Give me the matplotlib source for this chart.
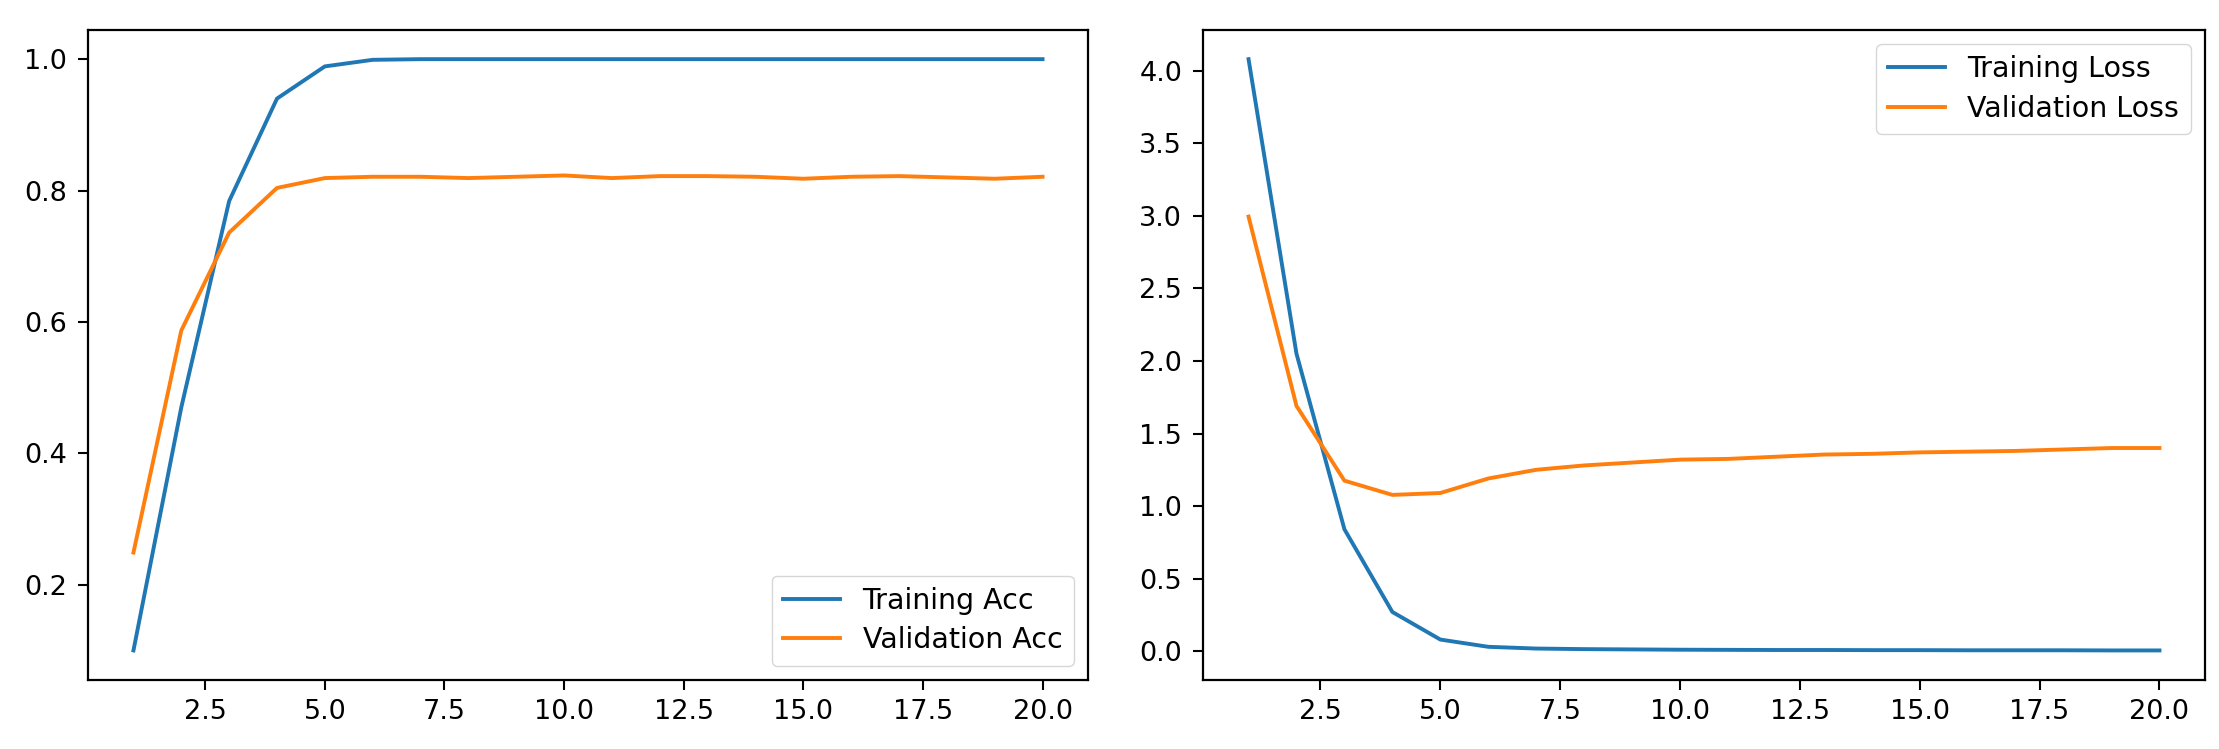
import matplotlib
matplotlib.use("Agg")
import matplotlib.pyplot as plt

epochs = list(range(1, 21))
train_acc = [0.10, 0.47, 0.784, 0.94, 0.989, 0.999, 1.0, 1.0, 1.0, 1.0,
             1.0, 1.0, 1.0, 1.0, 1.0, 1.0, 1.0, 1.0, 1.0, 1.0]
val_acc = [0.249, 0.587, 0.736, 0.804, 0.819, 0.821, 0.821, 0.819, 0.821, 0.823,
           0.819, 0.822, 0.822, 0.821, 0.818, 0.821, 0.822, 0.820, 0.818, 0.821]
train_loss = [4.08, 2.05, 0.84, 0.27, 0.08, 0.03, 0.018, 0.014, 0.012, 0.010,
              0.009, 0.008, 0.008, 0.007, 0.007, 0.006, 0.006, 0.006, 0.005, 0.005]
val_loss = [2.995, 1.69, 1.175, 1.077, 1.09, 1.19, 1.25, 1.28, 1.30, 1.32,
            1.325, 1.34, 1.355, 1.36, 1.37, 1.375, 1.38, 1.39, 1.40, 1.40]

plt.rcParams.update({
    "font.family": "DejaVu Sans",
    "font.size": 19.5,
    "axes.linewidth": 1.6,
    "xtick.major.width": 1.5,
    "ytick.major.width": 1.5,
    "xtick.major.size": 7,
    "ytick.major.size": 7,
    "xtick.major.pad": 7,
    "ytick.major.pad": 8,
    "lines.linewidth": 2.8,
    "legend.fontsize": 20.5,
    "legend.labelspacing": 0.4,
})

W, H = 2219, 749
fig = plt.figure(figsize=(W / 100, H / 100), dpi=100)
bottom = 1 - 680 / H
top = 1 - 29.6 / H
ax1 = fig.add_axes([88 / W, bottom, (1088 - 88) / W, top - bottom])
ax2 = fig.add_axes([1203 / W, bottom, (2205 - 1203) / W, top - bottom])

ax1.plot(epochs, train_acc, color="#1f77b4", label="Training Acc")
ax1.plot(epochs, val_acc, color="#ff7f0e", label="Validation Acc")
ax1.legend(loc="lower right")

ax2.plot(epochs, train_loss, color="#1f77b4", label="Training Loss")
ax2.plot(epochs, val_loss, color="#ff7f0e", label="Validation Loss")
ax2.legend(loc="upper right")

fig.savefig("out.png", dpi=100)
